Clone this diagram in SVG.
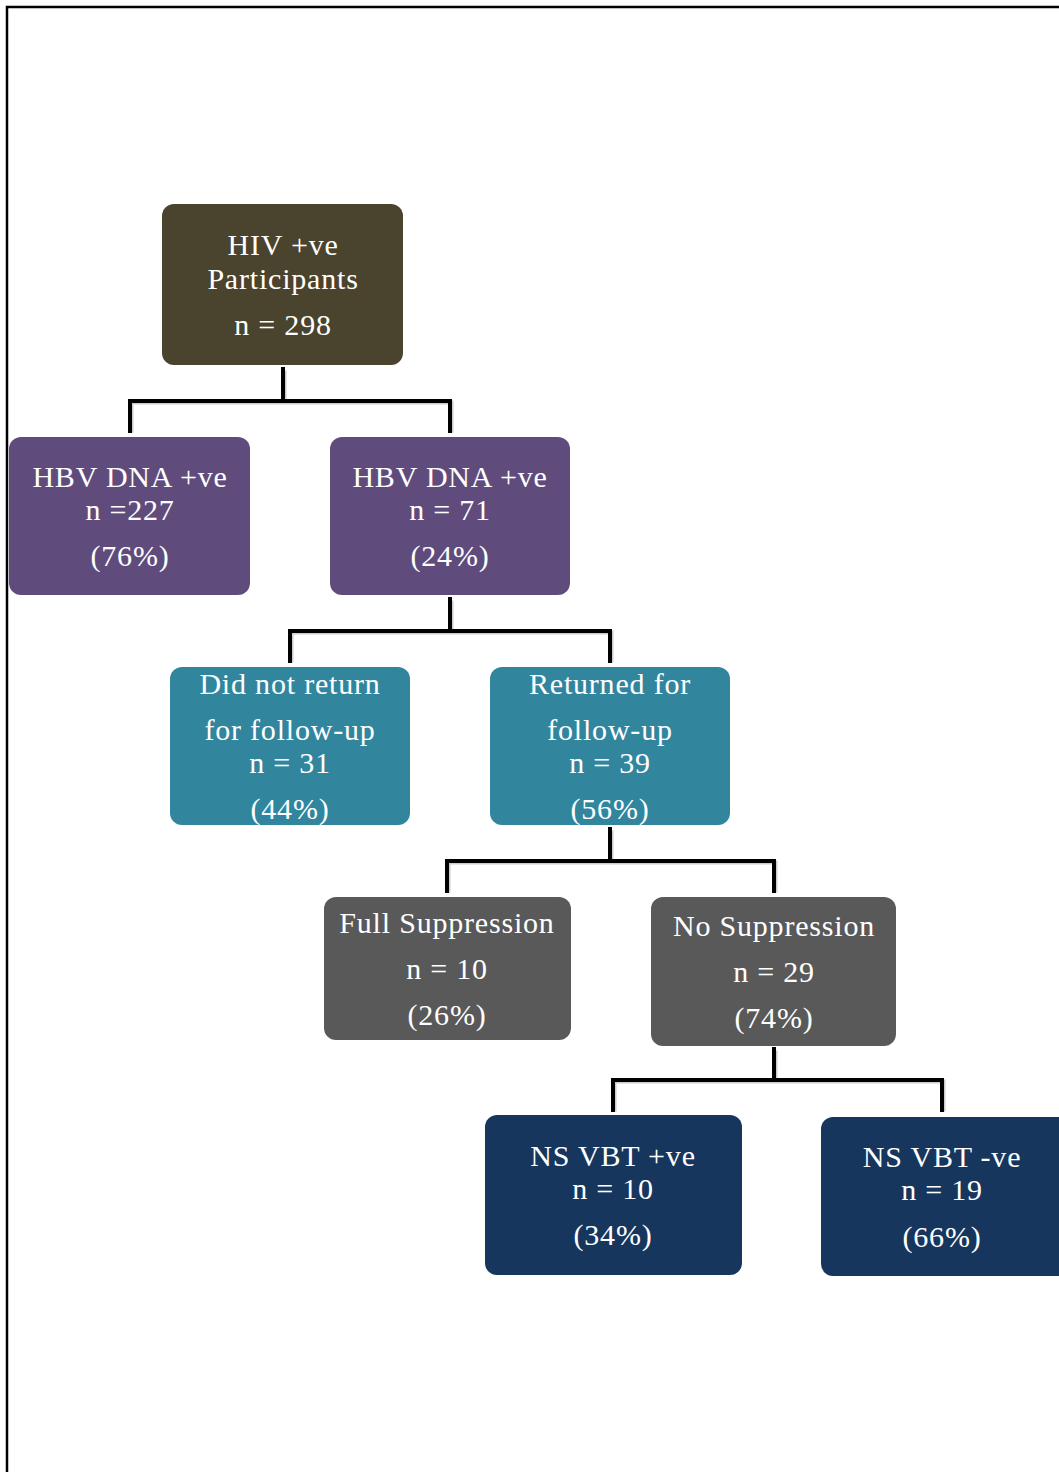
<svg xmlns="http://www.w3.org/2000/svg" width="1059" height="1472" viewBox="0 0 1059 1472">
<style>
.t{font-family:"Liberation Serif","Times New Roman",serif;font-size:30px;letter-spacing:0.8px;fill:#ffffff;text-anchor:middle}
.c{fill:none;stroke:#000;stroke-width:4;stroke-linecap:square}
.cs{fill:none;stroke:#999;stroke-width:4;opacity:.5}
</style>
<rect x="0" y="0" width="1059" height="1472" fill="#fff"/>
<path d="M7 1472 V7 H1059" fill="none" stroke="#000" stroke-width="2.5"/>
<g id="connectors">
<g transform="translate(1.5,1.5)" class="cs">
<path d="M283 369 V401 M130 431 V401 H450 V431"/>
<path d="M450 599 V631 M290 661 V631 H610 V661"/>
<path d="M610 829 V861 M447 891 V861 H774 V891"/>
<path d="M774 1049 V1080 M613 1110 V1080 H942 V1110"/>
</g>
<path class="c" d="M283 369 V401 M130 431 V401 H450 V431"/>
<path class="c" d="M450 599 V631 M290 661 V631 H610 V661"/>
<path class="c" d="M610 829 V861 M447 891 V861 H774 V891"/>
<path class="c" d="M774 1049 V1080 M613 1110 V1080 H942 V1110"/>
</g>
<g id="root">
<rect x="162" y="204" width="241" height="161" rx="12" fill="#4a432d"/>
<text class="t" x="283" y="255">HIV +ve</text>
<text class="t" x="283" y="289">Participants</text>
<text class="t" x="283" y="335">n = 298</text>
</g>
<g id="hbv-neg">
<rect x="9" y="437" width="241" height="158" rx="12" fill="#604c7c"/>
<text class="t" x="130" y="487">HBV DNA +ve</text>
<text class="t" x="130" y="520">n =227</text>
<text class="t" x="130" y="566">(76%)</text>
</g>
<g id="hbv-pos">
<rect x="330" y="437" width="240" height="158" rx="12" fill="#604c7c"/>
<text class="t" x="450" y="487">HBV DNA +ve</text>
<text class="t" x="450" y="520">n = 71</text>
<text class="t" x="450" y="566">(24%)</text>
</g>
<g id="did-not-return">
<rect x="170" y="667" width="240" height="158" rx="12" fill="#31869e"/>
<text class="t" x="290" y="694">Did not return</text>
<text class="t" x="290" y="740">for follow-up</text>
<text class="t" x="290" y="773">n = 31</text>
<text class="t" x="290" y="819">(44%)</text>
</g>
<g id="returned">
<rect x="490" y="667" width="240" height="158" rx="12" fill="#31869e"/>
<text class="t" x="610" y="694">Returned for</text>
<text class="t" x="610" y="740">follow-up</text>
<text class="t" x="610" y="773">n = 39</text>
<text class="t" x="610" y="819">(56%)</text>
</g>
<g id="full-suppression">
<rect x="324" y="897" width="247" height="143" rx="12" fill="#595959"/>
<text class="t" x="447" y="933">Full Suppression</text>
<text class="t" x="447" y="979">n = 10</text>
<text class="t" x="447" y="1025">(26%)</text>
</g>
<g id="no-suppression">
<rect x="651" y="897" width="245" height="149" rx="12" fill="#595959"/>
<text class="t" x="774" y="936">No Suppression</text>
<text class="t" x="774" y="982">n = 29</text>
<text class="t" x="774" y="1028">(74%)</text>
</g>
<g id="ns-vbt-pos">
<rect x="485" y="1115" width="257" height="160" rx="12" fill="#17365d"/>
<text class="t" x="613" y="1166">NS VBT +ve</text>
<text class="t" x="613" y="1199">n = 10</text>
<text class="t" x="613" y="1245">(34%)</text>
</g>
<g id="ns-vbt-neg">
<rect x="821" y="1117" width="250" height="159" rx="12" fill="#17365d"/>
<text class="t" x="942" y="1167">NS VBT -ve</text>
<text class="t" x="942" y="1200">n = 19</text>
<text class="t" x="942" y="1247">(66%)</text>
</g>
</svg>
